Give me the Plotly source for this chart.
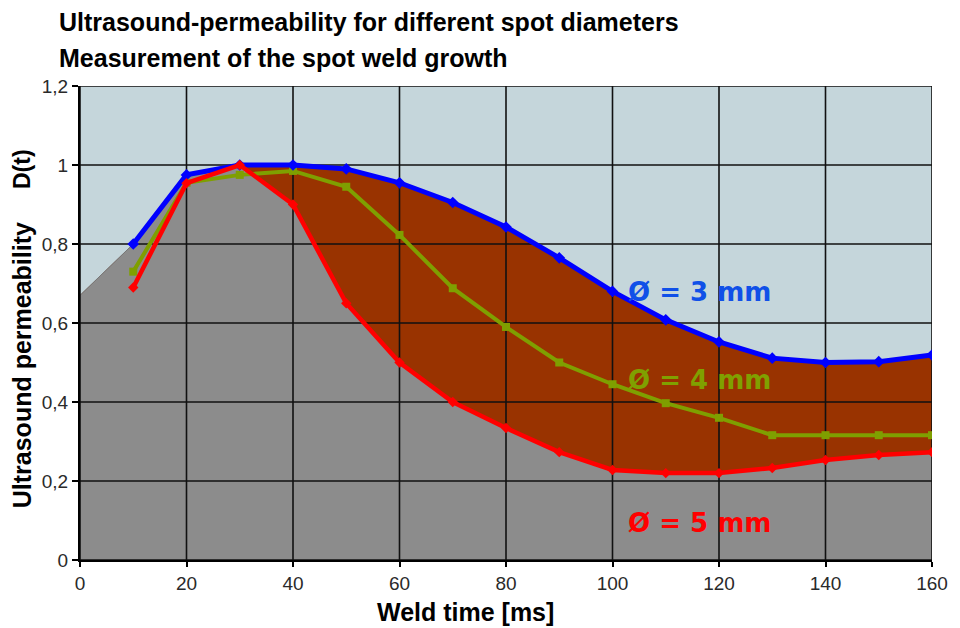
import plotly.graph_objects as go

# ---------------- data ----------------
weld_time = [10, 20, 30, 40, 50, 60, 70, 80, 90, 100, 110, 120, 130, 140, 150, 160]
d_3mm = [0.80, 0.975, 1.0, 1.0, 0.99, 0.955, 0.905, 0.843, 0.765, 0.68, 0.608, 0.552, 0.511, 0.50, 0.502, 0.519]
d_4mm = [0.73, 0.955, 0.975, 0.985, 0.945, 0.823, 0.688, 0.59, 0.50, 0.445, 0.397, 0.36, 0.316, 0.316, 0.316, 0.316]
d_5mm = [0.69, 0.954, 1.0, 0.90, 0.65, 0.50, 0.40, 0.334, 0.273, 0.228, 0.22, 0.22, 0.233, 0.253, 0.266, 0.273]

# filled areas (as drawn in the original: grey under the 5 mm curve, brown up to the 3 mm curve)
area_x = [0, 10, 20, 30, 40, 50, 60, 70, 80, 90, 100, 110, 120, 130, 140, 150, 160]
area_grey = [0.67, 0.80, 0.975, 1.0, 0.90, 0.65, 0.50, 0.40, 0.334, 0.273, 0.228, 0.22, 0.22, 0.233, 0.253, 0.266, 0.273]
area_brown = [0.67, 0.80, 0.975, 1.0, 1.0, 0.99, 0.955, 0.905, 0.843, 0.765, 0.68, 0.608, 0.552, 0.511, 0.50, 0.502, 0.519]

x_ticks = [0, 20, 40, 60, 80, 100, 120, 140, 160]
y_ticks = [0, 0.2, 0.4, 0.6, 0.8, 1.0, 1.2]
y_ticktext = ["0", "0,2", "0,4", "0,6", "0,8", "1", "1,2"]

labels = ["Ø = 3 mm", "Ø = 4 mm", "Ø = 5 mm"]
label_x = [102.5, 102.5, 102.5]
label_y = [0.678, 0.456, 0.094]

title_lines = ["Ultrasound-permeability for different spot diameters",
               "Measurement of the spot weld growth"]

# ---------------- styles ----------------
BLUE = "#0000FF"
GREEN = "#7F9F00"
RED = "#FF0000"
BROWN = "#993300"
GREY = "#8C8C8C"
BG = "#C5D6DB"
FONT = "Liberation Sans, Arial, sans-serif"

fig = go.Figure()

fig.add_trace(go.Scatter(x=area_x, y=area_brown, mode="lines", fill="tozeroy",
                         fillcolor=BROWN, line=dict(width=0, color=BROWN),
                         hoverinfo="skip", showlegend=False))
fig.add_trace(go.Scatter(x=area_x, y=area_grey, mode="lines", fill="tozeroy",
                         fillcolor=GREY, line=dict(width=1, color="#777777"),
                         hoverinfo="skip", showlegend=False))

# grid lines drawn above the filled areas (but below the curves)
for xv in x_ticks:
    fig.add_trace(go.Scatter(x=[xv, xv], y=[y_ticks[0], y_ticks[-1]], mode="lines",
                             line=dict(color="#111111", width=1.6),
                             hoverinfo="skip", showlegend=False))
for yv in y_ticks:
    fig.add_trace(go.Scatter(x=[x_ticks[0], x_ticks[-1]], y=[yv, yv], mode="lines",
                             line=dict(color="#111111", width=1.6),
                             hoverinfo="skip", showlegend=False))

fig.add_trace(go.Scatter(x=weld_time, y=d_4mm, mode="lines+markers",
                         line=dict(color=GREEN, width=4),
                         marker=dict(symbol="square", size=8, color=GREEN),
                         showlegend=False))
fig.add_trace(go.Scatter(x=weld_time, y=d_3mm, mode="lines+markers",
                         line=dict(color=BLUE, width=5),
                         marker=dict(symbol="diamond", size=9, color=BLUE),
                         showlegend=False))
fig.add_trace(go.Scatter(x=weld_time, y=d_5mm, mode="lines+markers",
                         line=dict(color=RED, width=4.5),
                         marker=dict(symbol="diamond", size=8, color=RED),
                         showlegend=False))

label_colors = ["#1050E8", "#80A000", "#FF0000"]
for txt, lx, ly, c in zip(labels, label_x, label_y, label_colors):
    fig.add_annotation(x=lx, y=ly, text=f"<b>{txt}</b>", showarrow=False,
                       xanchor="left", yanchor="middle",
                       font=dict(family="DejaVu Sans, Verdana, sans-serif", size=26, color=c))

# titles
fig.add_annotation(xref="paper", yref="paper", x=-0.027, y=1.135, text=f"<b>{title_lines[0]}</b>",
                   showarrow=False, xanchor="left", yanchor="middle",
                   font=dict(family=FONT, size=25, color="black"))
fig.add_annotation(xref="paper", yref="paper", x=-0.027, y=1.059, text=f"<b>{title_lines[1]}</b>",
                   showarrow=False, xanchor="left", yanchor="middle",
                   font=dict(family=FONT, size=25, color="black"))
fig.add_annotation(xref="paper", yref="paper", x=-0.068, y=0.411, text="<b>Ultrasound permeability</b>",
                   showarrow=False, textangle=-90, xanchor="center", yanchor="middle",
                   font=dict(family=FONT, size=25, color="black"))
fig.add_annotation(xref="paper", yref="paper", x=-0.068, y=0.825, text="<b>D(t)</b>",
                   showarrow=False, textangle=-90, xanchor="center", yanchor="middle",
                   font=dict(family=FONT, size=23, color="black"))
fig.add_annotation(xref="paper", yref="paper", x=0.452, y=-0.11, text="<b>Weld time [ms]</b>",
                   showarrow=False, xanchor="center", yanchor="middle",
                   font=dict(family=FONT, size=25, color="black"))

fig.update_layout(
    width=960, height=628,
    margin=dict(l=80, r=28, t=86, b=68),
    paper_bgcolor="white", plot_bgcolor=BG,
    font=dict(family=FONT, size=19, color="#2a2a2a"),
    showlegend=False,
)
fig.update_xaxes(range=[0, 160], tickvals=x_ticks, ticks="outside", ticklen=5,
                 tickcolor="black", tickwidth=1.5, showgrid=False, zeroline=False,
                 showline=True, linecolor="black", linewidth=2,
                 tickfont=dict(family=FONT, size=19, color="#2a2a2a"))
fig.update_yaxes(range=[0, 1.2], tickvals=y_ticks, ticktext=y_ticktext, ticks="outside",
                 ticklen=6, tickcolor="black", tickwidth=1.5, showgrid=False, zeroline=False,
                 showline=True, linecolor="black", linewidth=2,
                 tickfont=dict(family=FONT, size=19, color="#2a2a2a"))

fig.write_html("out.html")
